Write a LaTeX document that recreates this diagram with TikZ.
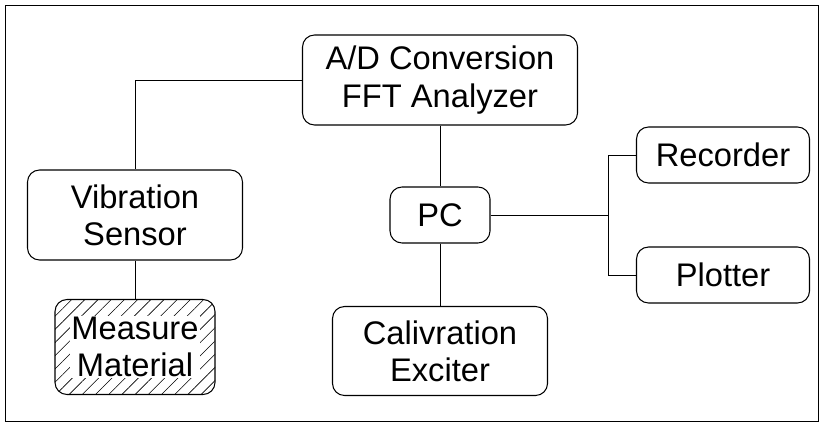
\documentclass[tikz,border=0pt]{standalone}
\usepackage{fontspec}
\setmainfont{Liberation Sans}
\usetikzlibrary{positioning,patterns.meta}

\tikzset{
  unit/.style={draw, thick, rounded corners=9pt, align=center, inner sep=0pt,
    font=\fontsize{24.5}{28}\selectfont},
  dims/.style 2 args={minimum width=#1*0.75pt, minimum height=#2*0.75pt},
  wire/.style={semithick}
}

\begin{document}
\begin{tikzpicture}[x=0.75pt,y=-0.75pt]

\useasboundingbox (0,0) rectangle (823,424);

% --- Frame ---
\draw[semithick] (5,5) rectangle (818,421);

% --- Units ---
\node[unit, dims={275}{90}] (adc) at (440,80) {A/D Conversion\\FFT Analyzer};
\node[unit, dims={215}{90}] (sensor) at (135,215) {Vibration\\Sensor};
\node[unit, dims={160}{95},
  pattern={Lines[angle=45,distance=7pt,line width=0.45pt]}] (material) at (135,347) {};
\node[fill=white, inner sep=1pt, align=center, font=\fontsize{24.5}{28}\selectfont] (materialtxt) at (material) {Measure\\Material};
\node[unit, dims={100}{56}] (pc) at (440,215) {PC};
\node[unit, dims={215}{89}] (exciter) at (440,351) {Calivration\\Exciter};
\node[unit, dims={173}{56}] (recorder) at (723,155) {Recorder};
\node[unit, dims={173}{56}] (plotter) at (723,275) {Plotter};

% --- Wiring ---
\coordinate (split) at (608,215);

\draw[wire] (adc.west) -| (sensor.north);
\draw[wire] (sensor.south) -- (material.north);
\draw[wire] (adc.south) -- (pc.north);
\draw[wire] (pc.south) -- (exciter.north);
\draw[wire] (pc.east) -- (split);
\foreach \dev in {recorder,plotter}{
  \draw[wire] (split) |- (\dev.west);
}

\end{tikzpicture}
\end{document}
